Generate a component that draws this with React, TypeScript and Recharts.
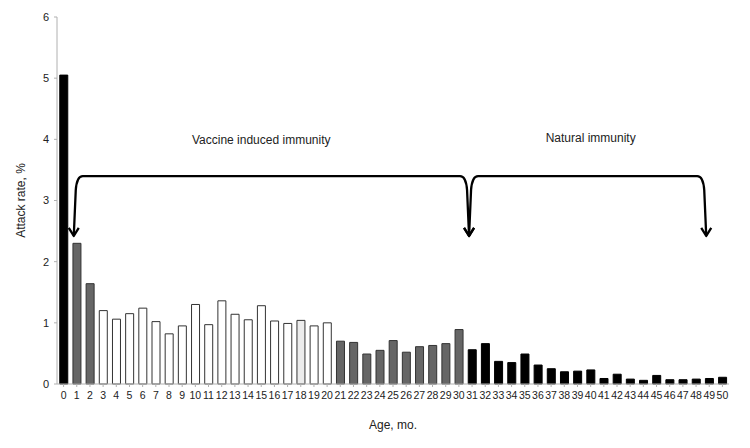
import { BarChart, Bar, XAxis, YAxis, Cell, ReferenceArea, ReferenceDot } from 'recharts';

const ages = Array.from({ length: 51 }, (_, i) => String(i));

const attackRates = [
  5.05, 2.3, 1.64, 1.2, 1.06, 1.15, 1.24, 1.02, 0.82, 0.95,
  1.3, 0.97, 1.36, 1.14, 1.05, 1.28, 1.03, 0.99, 1.04, 0.95,
  1.0, 0.7, 0.68, 0.49, 0.55, 0.71, 0.52, 0.61, 0.63, 0.66,
  0.89, 0.56, 0.66, 0.37, 0.35, 0.49, 0.31, 0.25, 0.2, 0.21,
  0.23, 0.09, 0.16, 0.08, 0.06, 0.14, 0.07, 0.07, 0.08, 0.09,
  0.11,
];

const yTicks = [0, 1, 2, 3, 4, 5, 6];

const data = ages.map((age, i) => ({ age, rate: attackRates[i] }));

// fill by age group, as in the original figure
const fillFor = (i: number) => {
  if (i === 0) return '#000000';
  if (i <= 2) return '#666666';
  if (i === 18) return '#ececec';
  if (i <= 20) return '#ffffff';
  if (i <= 30) return '#666666';
  return '#000000';
};

const font = '"Liberation Sans", Arial, sans-serif';

// bracket drawn inside a ReferenceArea box: arrows at first and last category centers
const bracket = (bands: number) => (props: any) => {
  const { x, y, width, height } = props;
  const bw = width / bands;
  const xl = x + bw / 2 - 3;
  const xr = x + width - bw / 2 - 3;
  const yt = y;
  const yb = y + height;
  const d = `M ${xl} ${yb} L ${xl + 2} ${yt + 14} Q ${xl + 3} ${yt} ${xl + 9} ${yt} L ${xr - 9} ${yt} Q ${xr - 3} ${yt} ${xr - 2} ${yt + 14} L ${xr} ${yb}`;
  const head = (cx: number) => `M ${cx - 5} ${yb - 8} L ${cx} ${yb} L ${cx + 5} ${yb - 8}`;
  return (
    <g fill="none" stroke="#000" strokeWidth={2.3} strokeLinejoin="round">
      <path d={d} />
      <path d={head(xl)} />
      <path d={head(xr)} />
    </g>
  );
};

export default function App() {
  return (
    <div style={{ position: 'absolute', left: 0, top: 0, width: 750, height: 448, background: '#fff', fontFamily: font }}>
      <BarChart
        width={750}
        height={448}
        data={data}
        margin={{ top: 17, right: 21, bottom: 0, left: 0 }}
        barCategoryGap="21%"
      >
        <XAxis
          dataKey="age"
          interval={0}
          height={64}
          tick={{ fontSize: 10.5, fill: '#222', fontFamily: font }}
          tickSize={3}
          tickMargin={5}
          axisLine={{ stroke: '#b0b0b0' }}
          tickLine={{ stroke: '#b0b0b0' }}
          label={{
            value: 'Age, mo.',
            position: 'insideBottom',
            offset: 19,
            style: { fontSize: 12, fill: '#222', fontFamily: font },
          }}
        />
        <YAxis
          width={57}
          domain={[0, 6]}
          ticks={yTicks}
          tick={{ fontSize: 11, fill: '#222', fontFamily: font }}
          tickSize={3}
          tickMargin={5}
          axisLine={{ stroke: '#b0b0b0' }}
          tickLine={{ stroke: '#b0b0b0' }}
          label={({ viewBox }: any) => (
            <text
              x={21}
              y={viewBox.y + viewBox.height / 2}
              transform={`rotate(-90, 21, ${viewBox.y + viewBox.height / 2})`}
              textAnchor="middle"
              dominantBaseline="central"
              fontSize={12}
              fill="#222"
              fontFamily={font}
            >
              Attack rate, %
            </text>
          )}
        />
        <Bar dataKey="rate" isAnimationActive={false} stroke="#333" strokeWidth={1}>
          {data.map((d, i) => (
            <Cell key={d.age} fill={fillFor(i)} stroke={fillFor(i) === '#000000' ? '#000' : '#333'} />
          ))}
        </Bar>
        <ReferenceArea x1="1" x2="31" y1={2.42} y2={3.4} shape={bracket(31)} ifOverflow="visible" />
        <ReferenceArea x1="31" x2="49" y1={2.42} y2={3.4} shape={bracket(19)} ifOverflow="visible" />
        <ReferenceDot
          x="15"
          y={4}
          r={0}
          ifOverflow="visible"
          label={{ value: 'Vaccine induced immunity', position: 'center', style: { fontSize: 12, fill: '#222', fontFamily: font } }}
        />
        <ReferenceDot
          x="40"
          y={4.03}
          r={0}
          ifOverflow="visible"
          label={{ value: 'Natural immunity', position: 'center', style: { fontSize: 12, fill: '#222', fontFamily: font } }}
        />
      </BarChart>
    </div>
  );
}
